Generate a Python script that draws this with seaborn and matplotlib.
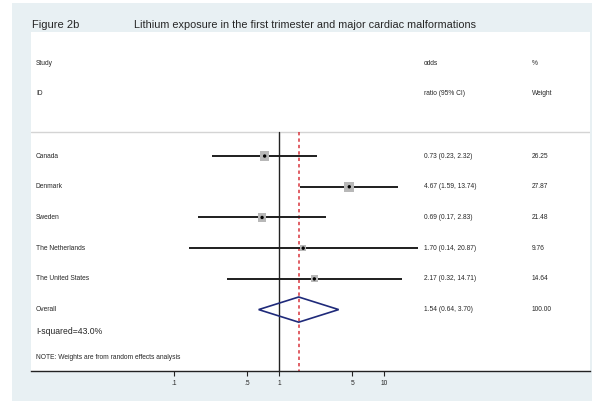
import numpy as np
import pandas as pd
import matplotlib.pyplot as plt
import matplotlib.transforms as mtransforms
from matplotlib.patches import Rectangle, Polygon
import seaborn as sns


# Data

studies = ["Canada", "Denmark", "Sweden", "The Netherlands", "The United States"]
odds = [0.73, 4.67, 0.69, 1.70, 2.17]
lower = [0.23, 1.59, 0.17, 0.14, 0.32]
upper = [2.32, 13.74, 2.83, 20.87, 14.71]
weights = [26.25, 27.87, 21.48, 9.76, 14.64]

overall_or = 1.54
overall_lo = 0.64
overall_hi = 3.70
i_squared = 43.0

tick_values = [0.1, 0.5, 1, 5, 10]
tick_labels = [".1", ".5", "1", "5", "10"]

df = pd.DataFrame({
    "study": studies,
    "odds": odds,
    "lower": lower,
    "upper": upper,
    "weight": weights,
})
df["row"] = np.arange(len(df))


# Style

sns.set_style("white")
plt.rcParams["font.family"] = ["Liberation Sans", "DejaVu Sans"]

bg = "#e8f0f3"
W, H = 592, 401

fig = plt.figure(figsize=(W / 100, H / 100), dpi=100, facecolor=bg)

# white strips on the outer edge
fig.patches.append(Rectangle((0, 0), 12 / W, 1, transform=fig.transFigure,
                             facecolor="white", edgecolor="none", zorder=-5))
fig.patches.append(Rectangle((0, 1 - 3 / H), 1, 3 / H, transform=fig.transFigure,
                             facecolor="white", edgecolor="none", zorder=-5))

ax = fig.add_axes([31 / W, (H - 371) / H, (590 - 31) / W, (371 - 32) / H])
ax.set_facecolor("white")

ax.set_xscale("log")
x_left = 10 ** ((31 - 279) / 105)
x_right = 10 ** ((590 - 279) / 105)
ax.set_xlim(x_left, x_right)
ax.set_ylim(7.0, -4.04)

sep_y = -0.78


# Reference lines

ax.plot([1, 1], [sep_y, 7.0], color="#222222", lw=1.0, zorder=2)
ax.plot([overall_or, overall_or], [sep_y, 7.0], color="#d8343c", lw=1.1,
        ls=(0, (2.2, 2.0)), zorder=2)
ax.axhline(sep_y, color="#d4d4d4", lw=1.0, zorder=1)


# Confidence intervals

ax.hlines(df["row"], df["lower"], df["upper"], color="#1e1e1e", lw=1.4, zorder=3)

sns.scatterplot(data=df, x="odds", y="row", size="weight",
                sizes=(min(weights) * 1.8, max(weights) * 1.8),
                size_norm=(min(weights), max(weights)),
                marker="s", color="#b8b8b8", edgecolor="none",
                legend=False, ax=ax, zorder=4)
sns.scatterplot(data=df, x="odds", y="row", s=6, marker="o", color="black",
                edgecolor="none", legend=False, ax=ax, zorder=5)


# Overall diamond

orow = len(df)
dh = 0.41
diamond = Polygon([(overall_lo, orow), (overall_or, orow - dh),
                   (overall_hi, orow), (overall_or, orow + dh)],
                  closed=True, fill=False, edgecolor="#1f2a7a", lw=1.2, zorder=4)
ax.add_patch(diamond)


# Text columns

tr = mtransforms.blended_transform_factory(ax.transAxes, ax.transData)
fs = 4.8
col_study = (36 - 31) / 559
col_or = (424 - 31) / 559
col_w = (532 - 31) / 559

ax.text(col_study, -3.03, "Study", transform=tr, fontsize=fs, va="center")
ax.text(col_study, -2.05, "ID", transform=tr, fontsize=fs, va="center")
ax.text(col_or, -3.03, "odds", transform=tr, fontsize=fs, va="center")
ax.text(col_or, -2.05, "ratio (95% CI)", transform=tr, fontsize=fs, va="center")
ax.text(col_w, -3.03, "%", transform=tr, fontsize=fs, va="center")
ax.text(col_w, -2.05, "Weight", transform=tr, fontsize=fs, va="center")

for _, r in df.iterrows():
    ax.text(col_study, r["row"], r["study"], transform=tr, fontsize=fs, va="center")
    ax.text(col_or, r["row"], f"{r['odds']:.2f} ({r['lower']:.2f}, {r['upper']:.2f})",
            transform=tr, fontsize=fs, va="center")
    ax.text(col_w, r["row"], f"{r['weight']:.2f}", transform=tr, fontsize=fs, va="center")

ax.text(col_study, orow, "Overall", transform=tr, fontsize=fs, va="center")
ax.text(col_or, orow, f"{overall_or:.2f} ({overall_lo:.2f}, {overall_hi:.2f})",
        transform=tr, fontsize=fs, va="center")
ax.text(col_w, orow, f"{sum(weights):.2f}", transform=tr, fontsize=fs, va="center")

ax.text(col_study, 5.7, f"I-squared={i_squared:.1f}%", transform=tr,
        fontsize=6.2, va="center")
ax.text(col_study, 6.55, "NOTE: Weights are from random effects analysis",
        transform=tr, fontsize=fs, va="center")


# Axis

ax.set_xticks(tick_values)
ax.set_xticklabels(tick_labels, fontsize=4.8)
ax.xaxis.set_minor_locator(plt.NullLocator())
ax.set_yticks([])
ax.set_xlabel("")
ax.set_ylabel("")
ax.tick_params(axis="x", direction="out", length=3.5, width=0.8, pad=3,
               bottom=True, color="#222222")
for side in ["top", "left", "right"]:
    ax.spines[side].set_visible(False)
ax.spines["bottom"].set_color("#222222")
ax.spines["bottom"].set_linewidth(1.0)


# Titles

fig.text(32 / W, 1 - 25 / H, "Figure 2b", fontsize=8, va="center")
fig.text(134 / W, 1 - 25 / H,
         "Lithium exposure in the first trimester and major cardiac malformations",
         fontsize=7.8, va="center")

plt.savefig("out.png", dpi=100, facecolor=bg)
